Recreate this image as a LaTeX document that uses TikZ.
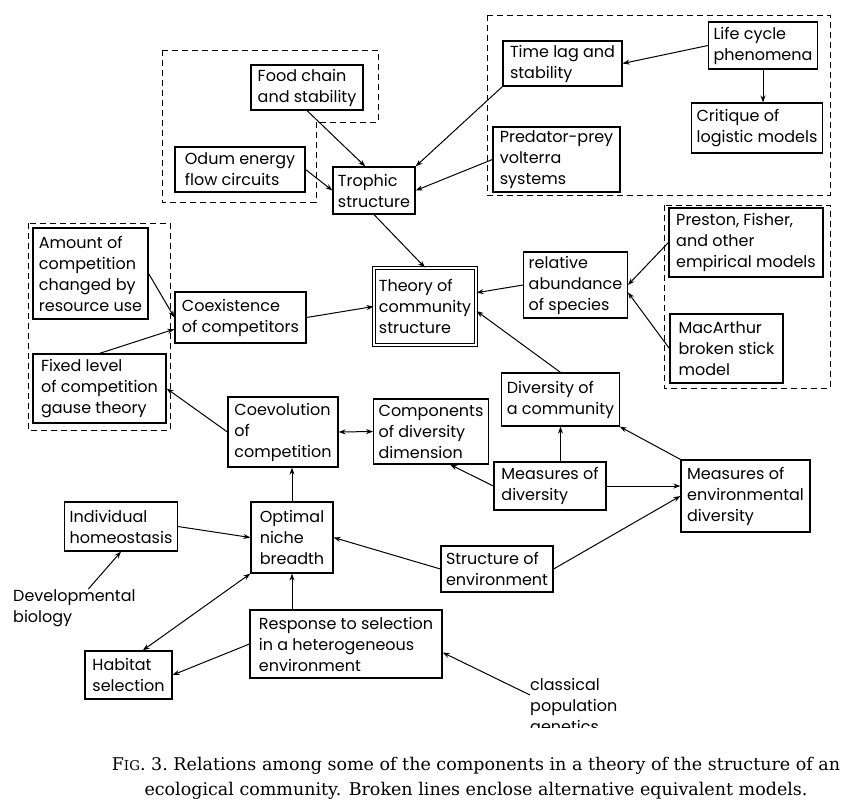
\documentclass[tikz,border=0pt]{standalone}
\usepackage{fontspec}
\usepackage{tikz}
\usetikzlibrary{arrows.meta, calc}
\newfontfamily\boxfont{Poppins}
\newfontfamily\capfont{DejaVu Serif}
\tikzset{
  box/.style    = {rectangle, draw=black, line width=1.2pt, align=left,
                   font=\boxfont\fontsize{16}{21}\selectfont,
                   inner xsep=5pt, inner ysep=1pt},
  mainbox/.style= {box, double, double distance=2.2pt, line width=0.9pt},
  free/.style   = {align=left, font=\boxfont\fontsize{16}{21}\selectfont,
                   inner sep=0pt, anchor=north west},
  alt/.style    = {draw=black, line width=1pt, dash pattern=on 6pt off 4pt},
  arr/.style    = {-{Stealth[length=7pt, width=5pt]}, line width=1pt},
  biarr/.style  = {{Stealth[length=7pt, width=5pt]}-{Stealth[length=7pt, width=5pt]}, line width=1pt}
}

\begin{document}
\begin{tikzpicture}[x=1pt, y=-1pt]
  \useasboundingbox (0,0) rectangle (850,806);

  % upper groups
  \node[box, minimum width=112, minimum height=45] (food)     at (307,87.5)   {Food chain\\and stability};
  \node[box, minimum width=130, minimum height=45] (odum)     at (240,169.5)  {Odum energy\\flow circuits};
  \node[box, minimum width=82,  minimum height=47] (trophic)  at (374,190.5)  {Trophic\\structure};
  \node[box, minimum width=119, minimum height=45] (timelag)  at (562.5,63.5) {Time lag and\\stability};
  \node[box, minimum width=100, minimum height=47] (life)     at (763,45.5)   {Life cycle\\phenomena};
  \node[box, minimum width=130, minimum height=50] (critique) at (757,128)    {Critique of\\logistic models};
  \node[box, minimum width=127, minimum height=65] (predator) at (556.5,159.5){Predator-prey\\volterra\\systems};

  % middle row
  \node[mainbox, minimum width=102, minimum height=77] (theory) at (425,306.5) {Theory of\\community\\structure};
  \node[box, minimum width=115, minimum height=91] (amount)    at (90.5,273.5) {Amount of\\competition\\changed by\\resource use};
  \node[box, minimum width=131, minimum height=51] (coexist)   at (240.5,317.5){Coexistence\\of competitors};
  \node[box, minimum width=133, minimum height=69] (fixed)     at (99.5,388.5) {Fixed level\\of competition\\gause theory};
  \node[box, minimum width=103, minimum height=66] (relative)  at (575.5,285)  {relative\\abundance\\of species};
  \node[box, minimum width=154, minimum height=69] (preston)   at (746,242.5)  {Preston, Fisher,\\and other\\empirical models};
  \node[box, minimum width=113, minimum height=69] (macarthur) at (726.5,348.5){MacArthur\\broken stick\\model};

  % diversity part
  \node[box, minimum width=113, minimum height=53] (divcomm)   at (560.5,399.5){Diversity of\\a community};
  \node[box, minimum width=110, minimum height=70] (coevol)    at (283,432)    {Coevolution\\of\\competition};
  \node[box, minimum width=114, minimum height=65] (compon)    at (431,431.5)  {Components\\of diversity\\dimension};
  \node[box, minimum width=112, minimum height=48] (measdiv)   at (550,486)    {Measures of\\diversity};
  \node[box, minimum width=129, minimum height=72] (measenv)   at (745.5,496)  {Measures of\\environmental\\diversity};
  \node[box, minimum width=112, minimum height=46] (structenv) at (497,569)    {Structure of\\environment};

  % lower part
  \node[box, minimum width=112, minimum height=49] (individual) at (121,526.5) {Individual\\homeostasis};
  \node[box, minimum width=82,  minimum height=71] (optimal)    at (292,537.5) {Optimal\\niche\\breadth};
  \node[box, minimum width=192, minimum height=68] (response)   at (346,644)   {Response to selection\\in a heterogeneous\\environment};
  \node[box, minimum width=87,  minimum height=48] (habitat)    at (128.5,675) {Habitat\\selection};
  \node[free] (devbio) at (13,589) {Developmental\\biology};
  \begin{scope}
    \clip (500,660) rectangle (720,727);
    \node[free] (classical) at (530,678) {classical\\population\\genetics};
  \end{scope}

  % alternative equivalent models
  \draw[alt] (162,50) -- (378,50) -- (378,122) -- (316,122) -- (316,202) -- (162,202) -- cycle;
  \draw[alt] (487,15) rectangle (830,195);
  \draw[alt] (28,223) rectangle (170,430);
  \draw[alt] (664,205) rectangle (830,388);

  \draw[arr] (food.south) -- (trophic.110);
  \draw[arr] (odum.east) -- (trophic.west);
  \draw[arr] (timelag.south west) -- (trophic.north east);
  \draw[arr] (predator.west) -- (trophic.east);
  \draw[arr] (life.west) -- (timelag.east);
  \draw[arr] (life.south) -- (life.south |- critique.north);
  \draw[arr] (trophic.south) -- (theory.north);
  \draw[arr] (coexist.east) -- (theory.west);
  \draw[arr] (relative.west) -- (theory.15);
  \draw[arr] (divcomm.north) -- (theory.-5);
  \draw[arr] (preston.west) -- (relative.east);
  \draw[arr] (macarthur.west) -- (relative.-8);
  \draw[arr] (amount.east) -- (coexist.west);
  \draw[arr] (fixed.north) -- (coexist.190);
  \draw[arr] (coevol.west) -- (fixed.east);
  \draw[biarr] (coevol.east) -- (compon.west);
  \draw[arr] (optimal.north) -- (optimal.north |- coevol.south);
  \draw[arr] (divcomm.south |- measdiv.north) -- (divcomm.south);
  \draw[arr] (measdiv.west) -- (compon.-60);
  \draw[arr] (measdiv.east) -- (measdiv.east -| measenv.west);
  \draw[arr] (measenv.north west) -- (divcomm.south east);
  \draw[arr] (individual.east) -- (optimal.west);
  \draw[arr] ([xshift=14pt]devbio.north) -- (individual.south);
  \draw[arr] (structenv.west) -- (optimal.east);
  \draw[arr] (structenv.east) -- (measenv.west);
  \draw[arr] (optimal.south |- response.north) -- (optimal.south);
  \draw[biarr] (optimal.south west) -- (habitat.60);
  \draw[arr] (response.west) -- (habitat.east);
  \draw[arr] ([yshift=-17pt]classical.north west) -- (response.-5);

  % caption
  \node[align=center, font=\capfont\fontsize{17.5}{25}\selectfont] (caption) at (476,778)
    {F{\fontsize{13.5}{25}\selectfont IG}. 3.\ Relations among some of the components in a theory of the structure of an\\
     ecological community. Broken lines enclose alternative equivalent models.};
\end{tikzpicture}
\end{document}
